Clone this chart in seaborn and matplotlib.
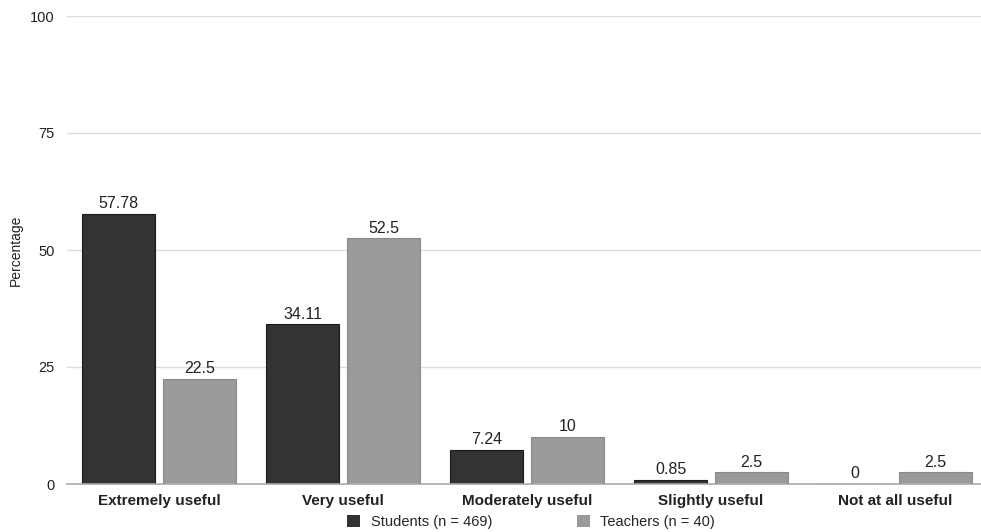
import matplotlib
matplotlib.use("Agg")
import matplotlib.pyplot as plt
import seaborn as sns
import pandas as pd

categories = ["Extremely useful", "Very useful", "Moderately useful",
              "Slightly useful", "Not at all useful"]
students = [57.78, 34.11, 7.24, 0.85, 0]
teachers = [22.5, 52.5, 10, 2.5, 2.5]
series_names = ["Students (n = 469)", "Teachers (n = 40)"]
yticks = [0, 25, 50, 75, 100]

df = pd.DataFrame({
    "category": categories * 2,
    "value": students + teachers,
    "group": [series_names[0]] * len(categories) + [series_names[1]] * len(categories),
})

sns.set_theme(style="white")
plt.rcParams["font.family"] = ["Liberation Sans", "DejaVu Sans"]

fig = plt.figure(figsize=(9.81, 5.32), dpi=100)
ax = fig.add_axes([67 / 981, 48 / 532, 914 / 981, 468 / 532])

palette = {series_names[0]: "#333333", series_names[1]: "#9a9a9a"}
sns.barplot(data=df, x="category", y="value", hue="group", order=categories,
            hue_order=series_names, palette=palette, width=0.88, gap=0.1,
            ax=ax, legend=False, saturation=1)

for i, cont in enumerate(ax.containers):
    for bar in cont:
        bar.set_edgecolor("#1a1a1a" if i == 0 else "#8a8a8a")
        bar.set_linewidth(0.8)
    vals = students if i == 0 else teachers
    ax.bar_label(cont, labels=[f"{v:g}" for v in vals], padding=2,
                 fontsize=11.5, color="#222222")

ax.set_ylim(0, 100)
ax.set_xlim(-0.5, 4.5 - 6 / 184)
ax.set_yticks(yticks)
ax.set_yticklabels([str(t) for t in yticks], fontsize=10.5, color="#222222")
ax.yaxis.grid(True, color="#dddddd", linewidth=1)
ax.set_axisbelow(True)
for s in ["top", "right", "left"]:
    ax.spines[s].set_visible(False)
ax.spines["bottom"].set_color("#aaaaaa")
ax.spines["bottom"].set_linewidth(1.2)
ax.tick_params(axis="y", length=0, pad=9)
ax.tick_params(axis="x", length=0, pad=7)
ax.set_xticks(range(len(categories)))
ax.set_xticklabels(categories, fontsize=11, fontweight="bold", color="#222222")
ax.set_xlabel("")
ax.set_ylabel("")
fig.text(16 / 981, 1 - 250 / 532, "Percentage", rotation=90, ha="center", va="center",
         fontsize=10, color="#222222")

handles = [plt.Rectangle((0, 0), 1, 1, facecolor=palette[n], edgecolor="none")
           for n in series_names]
fig.legend(handles, series_names, loc="center", bbox_to_anchor=(531 / 981, 1 - 522 / 532),
           ncol=2, frameon=False, fontsize=10.5, handlelength=0.9, handleheight=0.9,
           columnspacing=5.8, handletextpad=0.7, borderpad=0)

fig.savefig("out.png", dpi=100)
